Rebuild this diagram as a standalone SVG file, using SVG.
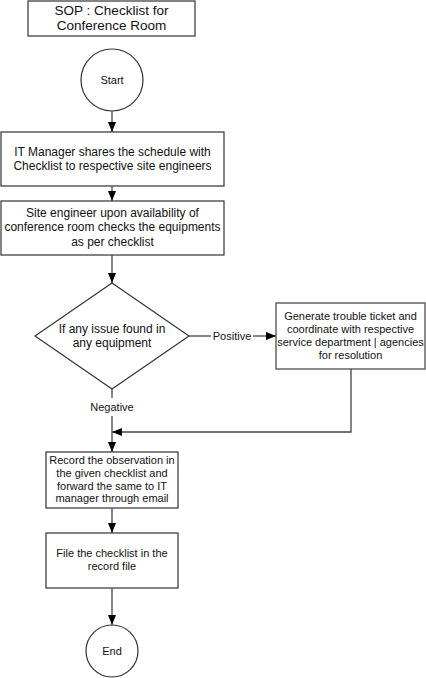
<svg xmlns="http://www.w3.org/2000/svg" width="426" height="678" viewBox="0 0 426 678">
<style>
  text { font-family: "Liberation Sans", Arial, sans-serif; fill: #111; text-anchor: middle; }
  .box { fill: #fff; stroke: #333; stroke-width: 1.2; }
  .box2 { fill: #fff; stroke: #666; stroke-width: 1.5; }
  .conn { fill: none; stroke: #444; stroke-width: 1.3; }
  .t14 { font-size: 13.5px; }
  .t12 { font-size: 12px; }
  .t11 { font-size: 11px; }
</style>
<defs>
  <marker id="arr" markerUnits="userSpaceOnUse" markerWidth="10" markerHeight="10" viewBox="0 0 10 10" refX="10" refY="5" orient="auto">
    <path d="M0,1 L10,5 L0,9 Z" fill="#000"/>
  </marker>
</defs>
<rect width="426" height="678" fill="#fff"/>
<g id="title">
  <rect class="box" x="28" y="1" width="167" height="35"/>
  <text class="t14" x="111.5" y="15">SOP : Checklist for</text>
  <text class="t14" x="111.5" y="30">Conference Room</text>
</g>
<g id="start">
  <circle class="box" cx="112" cy="80" r="31"/>
  <text class="t11" x="112" y="84">Start</text>
</g>
<g id="share">
  <rect class="box" x="1" y="132" width="223" height="54"/>
  <text class="t12" x="112.5" y="156">IT Manager shares the schedule with</text>
  <text class="t12" x="112.5" y="170">Checklist to respective site engineers</text>
</g>
<g id="check">
  <rect class="box" x="1" y="201" width="223" height="54"/>
  <text class="t12" x="112.5" y="217">Site engineer upon availability of</text>
  <text class="t12" x="112.5" y="231">conference room checks the equipments</text>
  <text class="t12" x="112.5" y="246">as per checklist</text>
</g>
<g id="decision">
  <path class="box" d="M112,283 L189,336 L112,389 L35,336 Z"/>
  <text class="t12" x="112" y="333">If any issue found in</text>
  <text class="t12" x="112" y="347">any equipment</text>
</g>
<g id="ticket">
  <rect class="box2" x="276" y="303" width="149" height="66"/>
  <text class="t11" x="350.5" y="320">Generate trouble ticket and</text>
  <text class="t11" x="350.5" y="333">coordinate with respective</text>
  <text class="t11" x="350.5" y="346">service department | agencies</text>
  <text class="t11" x="350.5" y="359">for resolution</text>
</g>
<g id="record">
  <rect class="box" x="46" y="452" width="132" height="56"/>
  <text class="t11" x="112" y="464">Record the observation in</text>
  <text class="t11" x="112" y="477">the given checklist and</text>
  <text class="t11" x="112" y="490">forward the same to IT</text>
  <text class="t11" x="112" y="502">manager through email</text>
</g>
<g id="file">
  <rect class="box" x="46" y="533" width="132" height="55"/>
  <text class="t11" x="112" y="557">File the checklist in the</text>
  <text class="t11" x="112" y="570">record file</text>
</g>
<g id="end">
  <circle class="box" cx="112" cy="651" r="26"/>
  <text class="t11" x="112" y="655">End</text>
</g>
<g id="connectors">
  <line class="conn" x1="112" y1="111" x2="112" y2="132" marker-end="url(#arr)"/>
  <line class="conn" x1="112" y1="186" x2="112" y2="201" marker-end="url(#arr)"/>
  <line class="conn" x1="112" y1="255" x2="112" y2="283" marker-end="url(#arr)"/>
  <line class="conn" x1="189" y1="336" x2="211" y2="336"/>
  <line class="conn" x1="253" y1="336" x2="276" y2="336" marker-end="url(#arr)"/>
  <text class="t11" x="232" y="340">Positive</text>
  <polyline class="conn" points="351,369 351,432 112,432" marker-end="url(#arr)"/>
  <line class="conn" x1="112" y1="389" x2="112" y2="398"/>
  <text class="t11" x="112" y="411">Negative</text>
  <line class="conn" x1="112" y1="416" x2="112" y2="452" marker-end="url(#arr)"/>
  <line class="conn" x1="112" y1="508" x2="112" y2="533" marker-end="url(#arr)"/>
  <line class="conn" x1="112" y1="588" x2="112" y2="625" marker-end="url(#arr)"/>
</g>
</svg>
